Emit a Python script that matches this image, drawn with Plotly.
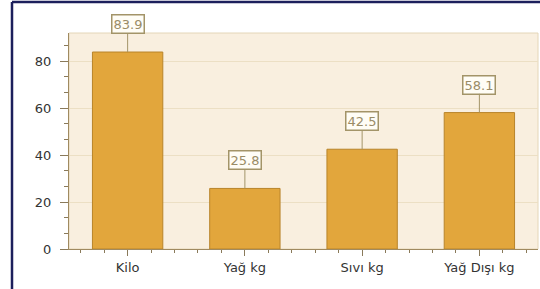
import plotly.graph_objects as go

categories = ["Kilo", "Yağ kg", "Sıvı kg", "Yağ Dışı kg"]
values = [83.9, 25.8, 42.5, 58.1]
value_labels = ["83.9", "25.8", "42.5", "58.1"]
y_tick_values = [0, 20, 40, 60, 80]

positions = list(range(len(categories)))

fig = go.Figure()
fig.add_trace(go.Bar(
    x=positions, y=values, width=0.6,
    marker=dict(color="#e2a63c", line=dict(color="#b8842a", width=1)),
    hoverinfo="skip", showlegend=False,
))

for xp, v, t in zip(positions, values, value_labels):
    fig.add_annotation(
        x=xp, y=v, xref="x", yref="y", text=t,
        showarrow=True, arrowhead=0, arrowwidth=1, arrowcolor="#a39468",
        ax=0, ay=-28, standoff=0,
        font=dict(family="DejaVu Sans", size=13, color="#9a8c66"),
        bgcolor="#fffdf6", bordercolor="#a39468", borderwidth=1.5, borderpad=1,
    )

# faint plot frame
fig.add_shape(type="rect", xref="paper", yref="paper", x0=0, y0=0, x1=1, y1=1,
              line=dict(color="#e4d6b8", width=1), layer="below")
# navy outer frame (left and top)
fig.add_shape(type="line", xref="paper", yref="paper",
              x0=(12 - 69) / 469, x1=(12 - 69) / 469, y0=-2, y1=(249 - 2) / 216,
              line=dict(color="#1c1f5c", width=2.5), layer="above")
fig.add_shape(type="line", xref="paper", yref="paper",
              x0=(12 - 69) / 469, x1=1.2, y0=(249 - 2) / 216, y1=(249 - 2) / 216,
              line=dict(color="#1c1f5c", width=2.5), layer="above")

fig.update_layout(
    width=540, height=289,
    margin=dict(l=69, r=2, t=33, b=40),
    paper_bgcolor="white",
    plot_bgcolor="#f9efdf",
    font=dict(family="DejaVu Sans", size=13, color="#333333"),
    bargap=0.4,
    xaxis=dict(
        range=[-0.5, 3.5], tickmode="array", tickvals=positions, ticktext=categories,
        showgrid=False, zeroline=False,
        showline=True, linecolor="#a08a60", linewidth=1,
        ticks="outside", ticklen=6, tickcolor="#8a7a5a", tickwidth=1,
        minor=dict(dtick=0.2, tick0=0, ticks="outside", ticklen=3, tickcolor="#8a7a5a", showgrid=False),
        tickfont=dict(family="DejaVu Sans", size=13, color="#333333"),
        fixedrange=True,
    ),
    yaxis=dict(
        range=[0, 92], tickmode="array", tickvals=y_tick_values,
        showgrid=True, gridcolor="#ecdfc4", gridwidth=1, zeroline=False,
        showline=True, linecolor="#a08a60", linewidth=1,
        ticks="outside", ticklen=8, tickcolor="#8a7a5a", tickwidth=1,
        minor=dict(dtick=20 / 3, tick0=0, ticks="outside", ticklen=4, tickcolor="#8a7a5a", showgrid=False),
        tickfont=dict(family="DejaVu Sans", size=13, color="#333333"),
        ticklabelstandoff=6,
        fixedrange=True,
    ),
)

fig.write_html(
    "out.html",
    config={"displayModeBar": False, "staticPlot": True},
    post_script="document.body.style.margin='0';document.body.style.overflow='hidden';document.documentElement.style.overflow='hidden';",
)
